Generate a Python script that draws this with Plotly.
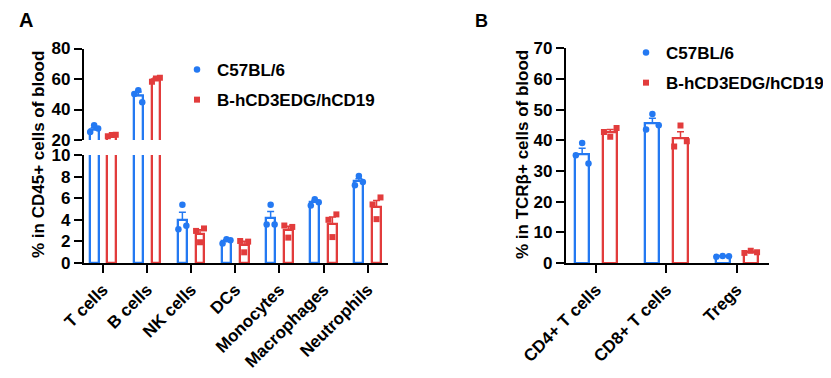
import plotly.graph_objects as go

# ---------------- data ----------------
cats_a = ["T cells", "B cells", "NK cells", "DCs", "Monocytes", "Macrophages", "Neutrophils"]
wt_a_mean = [26.8, 49.1, 3.98, 2.03, 4.17, 5.62, 7.56]
tg_a_mean = [23.1, 59.8, 2.67, 1.67, 3.05, 3.62, 5.18]
wt_a_sem = [1.3, 2.4, 0.72, 0.12, 0.6, 0.17, 0.25]
tg_a_sem = [0.3, 0.8, 0.4, 0.34, 0.35, 0.65, 0.6]
wt_a_pts = [[25.3, 29.7, 27.5], [50.1, 52.7, 44.7], [3.13, 5.4, 3.44], [1.8, 2.2, 2.1],
            [3.56, 5.39, 3.56], [5.33, 5.91, 5.63], [7.21, 8.05, 7.5]]
tg_a_pts = [[22.5, 23.3, 23.5], [58.2, 60.4, 60.8], [2.97, 1.92, 3.2], [2.04, 0.99, 1.98],
            [3.47, 2.35, 3.34], [4.0, 2.4, 4.5], [5.42, 4.06, 6.07]]

cats_b = ["CD4+ T cells", "CD8+ T cells", "Tregs"]
wt_b_mean = [35.5, 45.7, 2.17]
tg_b_mean = [42.7, 40.8, 3.6]
wt_b_sem = [1.95, 1.5, 0.15]
tg_b_sem = [0.8, 2.0, 0.25]
wt_b_pts = [[35.1, 39.1, 32.4], [43.5, 48.6, 44.9], [2.0, 2.3, 2.2]]
tg_b_pts = [[42.7, 41.2, 44.0], [38.0, 44.8, 39.7], [3.3, 4.0, 3.5]]

names = ["C57BL/6", "B-hCD3EDG/hCD19"]

# ---------------- style ----------------
BLUE = "#2479F2"
RED = "#E23C3C"
FONT = "Arial, 'Liberation Sans', sans-serif"
PAGE_OFF = 8          # default body margin of the html page
W, H = 831 - PAGE_OFF, 378 - PAGE_OFF
OFF = 0.2
BW = 0.2
JIT = [-0.09, 0.0, 0.09]


def px_x(p):
    return (p - PAGE_OFF) / W


def px_y(p):
    return 1 - (p - PAGE_OFF) / H


fig = go.Figure()


def add_group(means, sems, pts, color, symbol, sign, xa, ya, name, legend, group, showleg):
    n = len(means)
    xs = [i + sign * OFF for i in range(n)]
    fig.add_trace(go.Bar(
        x=xs, y=means, width=BW, xaxis=xa, yaxis=ya,
        marker=dict(color="white", line=dict(color=color, width=2.3)),
        error_y=dict(type="data", array=sems, arrayminus=[0] * n, symmetric=False,
                     color=color, thickness=1.5, width=3.5),
        showlegend=False, hoverinfo="skip"))
    px_, py_ = [], []
    for i, vals in enumerate(pts):
        for j, v in enumerate(vals):
            px_.append(i + sign * OFF + JIT[j])
            py_.append(v)
    fig.add_trace(go.Scatter(
        x=px_, y=py_, mode="markers", xaxis=xa, yaxis=ya,
        marker=dict(color=color, symbol=symbol, size=6.5 if symbol == "circle" else 6),
        name=name, legend=legend, legendgroup=group, showlegend=showleg))


# Panel A: bottom (y) and top (y2) segments
for ya, leg in (("y", True), ("y2", False)):
    add_group(wt_a_mean, wt_a_sem, wt_a_pts, BLUE, "circle", -1, "x", ya, names[0], "legend", "a0", leg)
    add_group(tg_a_mean, tg_a_sem, tg_a_pts, RED, "square", 1, "x", ya, names[1], "legend", "a1", leg)
# Panel B
add_group(wt_b_mean, wt_b_sem, wt_b_pts, BLUE, "circle", -1, "x2", "y3", names[0], "legend2", "b0", True)
add_group(tg_b_mean, tg_b_sem, tg_b_pts, RED, "square", 1, "x2", "y3", names[1], "legend2", "b1", True)

tickfont = dict(family=FONT, size=17, color="black", weight=700)
axis_common = dict(showline=True, linecolor="black", linewidth=2.3, ticks="outside",
                   ticklen=8, tickwidth=2.3, tickcolor="black", showgrid=False,
                   zeroline=False, tickfont=tickfont, automargin=False)

fig.update_layout(
    template="none",
    width=W, height=H, margin=dict(l=0, r=0, t=0, b=0, autoexpand=False),
    paper_bgcolor="white", plot_bgcolor="white",
    barmode="overlay", bargap=0,
    xaxis=dict(domain=[px_x(84), px_x(388)], range=[-0.43, 6.46], anchor="y",
               tickvals=list(range(len(cats_a))), ticktext=cats_a, tickangle=-45, **axis_common),
    yaxis=dict(domain=[px_y(263), px_y(155)], range=[0, 10], dtick=2, anchor="x", **axis_common),
    yaxis2=dict(domain=[px_y(140), px_y(48.5)], range=[20, 80], dtick=20, anchor="x", **axis_common),
    xaxis2=dict(domain=[px_x(566), px_x(769)], range=[-0.43, 2.46], anchor="y3",
                tickvals=list(range(len(cats_b))), ticktext=cats_b, tickangle=-45, **axis_common),
    yaxis3=dict(domain=[px_y(263), px_y(48.3)], range=[0, 70], dtick=10, anchor="x2", **axis_common),
    legend=dict(x=px_x(177), y=px_y(52), xanchor="left", yanchor="top", bgcolor="rgba(0,0,0,0)",
                font=dict(family=FONT, size=17, color="black", weight=700), tracegroupgap=5),
    legend2=dict(x=px_x(626), y=px_y(35), xanchor="left", yanchor="top", bgcolor="rgba(0,0,0,0)",
                 font=dict(family=FONT, size=17, color="black", weight=700), tracegroupgap=5),
)

ann_font = dict(family=FONT, size=17, color="black", weight=700)
fig.add_annotation(x=px_x(39), y=px_y(155), xref="paper", yref="paper", text="% in CD45+ cells of blood",
                   textangle=-90, showarrow=False, font=ann_font, xanchor="center", yanchor="middle")
fig.add_annotation(x=px_x(523), y=px_y(155), xref="paper", yref="paper", text="% in TCRβ+ cells of blood",
                   textangle=-90, showarrow=False, font=ann_font, xanchor="center", yanchor="middle")
fig.add_annotation(x=px_x(25.5), y=px_y(20.5), xref="paper", yref="paper", text="A", showarrow=False,
                   font=dict(family=FONT, size=20, color="black", weight=700), xanchor="center", yanchor="middle")
fig.add_annotation(x=px_x(482), y=px_y(21), xref="paper", yref="paper", text="B", showarrow=False,
                   font=dict(family=FONT, size=18, color="black", weight=700), xanchor="center", yanchor="middle")

fig.write_html("out.html")
